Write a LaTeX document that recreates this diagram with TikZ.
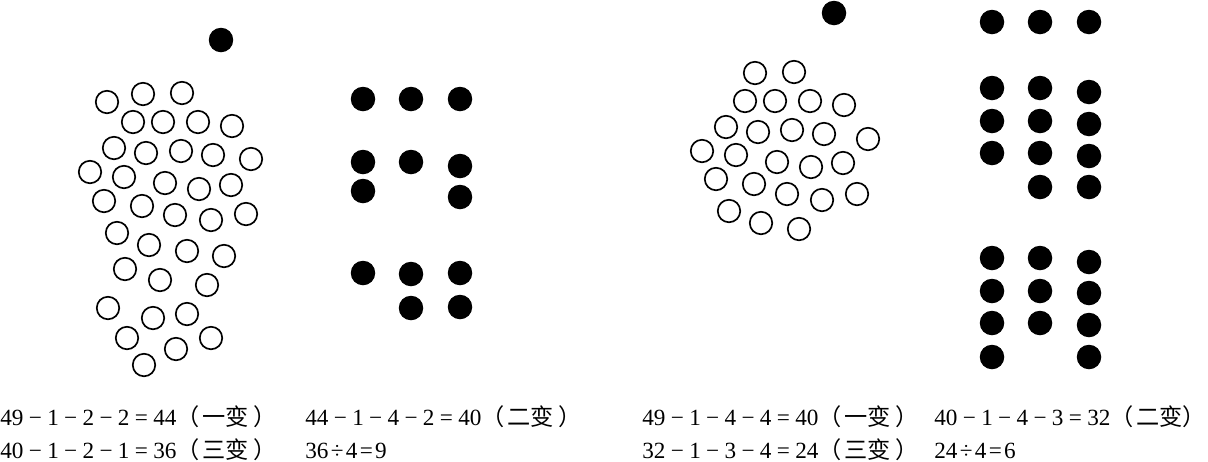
\documentclass[tikz,border=0pt]{standalone}
\usepackage{fontspec}
\setmainfont{Liberation Serif}
\newfontfamily\cjk{Noto Sans CJK SC}
\usepackage{tikz}
\usetikzlibrary{positioning}

\newcommand{\mn}{\hspace{0.23em}−\hspace{0.23em}}
\newcommand{\eq}{\hspace{0.23em}=\hspace{0.23em}}
\newcommand{\dv}{\hspace{0.1em}÷\hspace{0.1em}}
\newcommand{\eqs}{\hspace{0.1em}=\hspace{0.1em}}
\newcommand{\bian}[2][0.2em]{{\cjk（\hspace{0.1em}#2变\hspace{#1}）}}

\tikzset{
  hole/.style={circle, draw, line width=0.95pt, minimum size=0.45cm, inner sep=0pt},
  bead/.style={circle, fill=black, minimum size=0.49cm, inner sep=0pt},
  eqn/.style={anchor=base west, inner sep=0pt, font=\fontsize{13.2}{15}\selectfont}
}

\begin{document}
\begin{tikzpicture}[x=0.02cm, y=-0.02cm]
  \useasboundingbox (0,0) rectangle (1208,461);
  % Left figure: the bead that is taken away
  \node[bead] (ltop) at (221,40) {};
  % Left figure: open rings
  \foreach \x/\y [count=\i] in {107/102,143/94,182/93,
      133/122,163/122,198/122,232/126,
      114/148,146/153,181/151,213/155,251/159,
      90/172,124/177,165/183,199/189,231/185,
      104/201,142/206,175/215,211/220,246/214,
      117/233,149/245,187/251,224/256,
      125/269,160/280,207/285,
      108/308,153/318,187/314,
      127/338,176/349,211/338,
      144/365}
    \node[hole] (lring\i) at (\x,\y) {};
  % Left figure: beads in groups
  \foreach \x/\y [count=\i] in {363/99,411/99,460/99,
      363/162,411/162,460/166,363/191,460/197,
      363/273,411/274,460/273,411/308,460/307}
    \node[bead] (lbead\i) at (\x,\y) {};

  % Right figure: the bead that is taken away
  \node[bead] (rtop) at (834,13) {};
  % Right figure: open rings
  \foreach \x/\y [count=\i] in {755/73,794/72,
      745/101,775/101,810/101,844/105,
      726/127,758/132,792/130,824/134,868/139,
      702/151,736/155,777/162,811/167,843/163,
      716/179,754/184,787/194,822/200,857/194,
      729/211,761/223,799/229}
    \node[hole] (rring\i) at (\x,\y) {};
  % Right figure: beads in groups
  \foreach \x/\y [count=\i] in {992/22,1040/22,1089/22,
      992/88,1040/88,1089/92,
      992/121,1040/121,1089/124,
      992/153,1040/153,1089/156,
      1040/187,1089/187,
      992/258,1040/258,1089/262,
      992/291,1040/291,1089/293,
      992/323,1040/323,1089/325,
      992/357,1089/357}
    \node[bead] (rbead\i) at (\x,\y) {};

  % Equations
  \node[eqn] (lone)   at (0,425)   {49\mn 1\mn 2\mn 2\eq 44\bian{一}};
  \node[eqn] (ltwo)   at (305,425) {44\mn 1\mn 4\mn 2\eq 40\bian{二}};
  \node[eqn] (lthree) at (0,458)   {40\mn 1\mn 2\mn 1\eq 36\bian{三}};
  \node[eqn] (lfour)  at (305,458) {36\dv 4\eqs 9};
  \node[eqn] (rone)   at (642,425) {49\mn 1\mn 4\mn 4\eq 40\bian{一}};
  \node[eqn] (rtwo)   at (934,425) {40\mn 1\mn 4\mn 3\eq 32\bian[0em]{二}};
  \node[eqn] (rthree) at (642,458) {32\mn 1\mn 3\mn 4\eq 24\bian{三}};
  \node[eqn] (rfour)  at (934,458) {24\dv 4\eqs 6};
\end{tikzpicture}
\end{document}
